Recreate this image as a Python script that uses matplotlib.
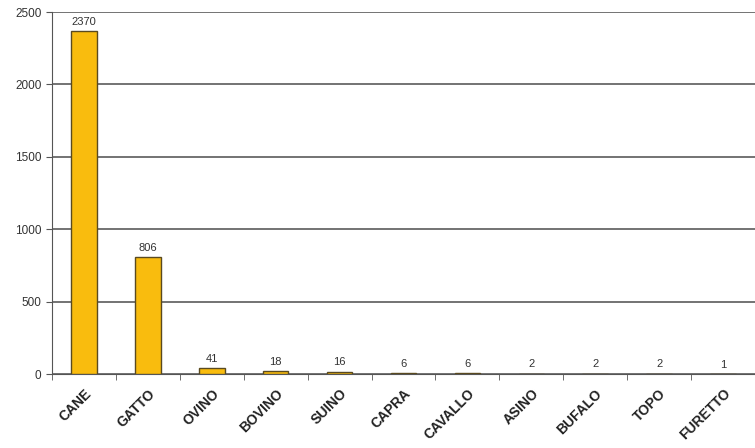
import matplotlib.pyplot as plt
import numpy as np

animals = ["CANE", "GATTO", "OVINO", "BOVINO", "SUINO", "CAPRA",
           "CAVALLO", "ASINO", "BUFALO", "TOPO", "FURETTO"]
counts = [2370, 806, 41, 18, 16, 6, 6, 2, 2, 2, 1]
yticks = [0, 500, 1000, 1500, 2000, 2500]

plt.rcParams['font.family'] = ['Liberation Sans', 'DejaVu Sans']

fig = plt.figure(figsize=(7.55, 4.48), dpi=100)
ax = fig.add_axes([0.0689, 0.165, 0.9311, 0.808])

x = np.arange(len(animals))
ax.bar(x, counts, width=0.4, color="#F9BC0E", edgecolor="#5a4a20", linewidth=1.0, zorder=3)

for xi, c in zip(x, counts):
    ax.text(xi, c + 30, str(c), ha="center", va="bottom", fontsize=8, color="#333333")

ax.set_xlim(-0.5, len(animals) - 0.5)
ax.set_ylim(0, 2500)
ax.set_yticks(yticks)
ax.set_yticklabels([str(v) for v in yticks], fontsize=8.5, color="#333333")
ax.yaxis.grid(True, color="#4d4d4d", linewidth=1.1, zorder=0)

# category labels at centers, tick marks between categories
ax.set_xticks(x)
ax.set_xticklabels(animals, rotation=45, ha="right", rotation_mode="anchor",
                   fontsize=10, fontweight="bold", color="#222222")
ax.tick_params(axis="x", which="major", length=0, pad=9)
ax.set_xticks(np.arange(-0.5, len(animals) - 0.4, 1), minor=True)
ax.tick_params(axis="x", which="minor", length=4, direction="out", color="#555555")
ax.tick_params(axis="y", length=4, direction="out", color="#555555")

for side in ["top", "right"]:
    ax.spines[side].set_visible(False)
ax.spines["left"].set_color("#555555")
ax.spines["bottom"].set_color("#555555")

fig.savefig("out.png", dpi=100)
